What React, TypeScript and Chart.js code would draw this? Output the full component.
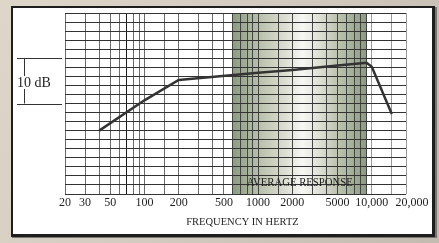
import React, { useEffect, useRef } from "react";
import { Chart, registerables } from "chart.js";

Chart.register(...registerables);

// Response curve: frequency (Hz) and relative level (dB)
const frequencies = [40, 100, 200, 1000, 2000, 5000, 9000, 10000, 15000];
const levels = [14, 20.7, 25.2, 26.8, 27.4, 28.4, 29.0, 28.1, 17.7];

// Vertical gridline positions (Hz)
const gridFrequencies = [
  20, 30, 40, 50, 60, 70, 80, 90, 100, 150, 200, 300, 400, 500, 600, 700, 800, 900,
  1000, 1500, 2000, 3000, 4000, 5000, 6000, 7000, 8000, 9000, 10000, 15000, 20000,
];
// Labelled frequencies
const labelFrequencies = [20, 30, 50, 100, 200, 500, 1000, 2000, 5000, 10000, 20000];
const labelTexts = ["20", "30", "50", "100", "200", "500", "1000", "2000", "5000", "10,000", "\u2002\u200220,000"];

// Average response band (Hz)
const bandRange = [600, 9000];
// Scale bracket (dB)
const bracketRange = [20, 30];

const SERIF = "'Liberation Serif', 'DejaVu Serif', serif";

const decorPlugin = {
  id: "decor",
  beforeDraw(chart: any) {
    const { ctx, width, height, chartArea, scales } = chart;
    ctx.save();
    // textured-ish page background
    const bg = ctx.createLinearGradient(0, 0, width, height);
    bg.addColorStop(0, "#ddd6c9");
    bg.addColorStop(0.5, "#d2cabe");
    bg.addColorStop(1, "#c3bbaf");
    ctx.fillStyle = bg;
    ctx.fillRect(0, 0, width, height);
    // shadow
    ctx.fillStyle = "#7a756e";
    ctx.fillRect(12, 236, 425, 2);
    ctx.fillRect(435, 7, 2, 231);
    // frame
    ctx.fillStyle = "#1e1e1e";
    ctx.fillRect(11, 6, 424, 231);
    ctx.fillStyle = "#ffffff";
    ctx.fillRect(13, 8, 419, 226);
    // band
    const x0 = scales.x.getPixelForValue(bandRange[0]);
    const x1 = scales.x.getPixelForValue(bandRange[1]);
    const g = ctx.createLinearGradient(x0, 0, x1, 0);
    g.addColorStop(0, "#8c9c80");
    g.addColorStop(0.1, "#a3af97");
    g.addColorStop(0.25, "#c3c9b7");
    g.addColorStop(0.4, "#dde0d4");
    g.addColorStop(0.52, "#f7f7f4");
    g.addColorStop(0.62, "#e4e6dc");
    g.addColorStop(0.76, "#c2c8b5");
    g.addColorStop(0.9, "#a2ae96");
    g.addColorStop(1, "#8a9a7f");
    ctx.fillStyle = g;
    ctx.fillRect(x0, chartArea.top, x1 - x0, chartArea.bottom - chartArea.top);
    ctx.restore();
  },
  afterDraw(chart: any) {
    const { ctx, scales } = chart;
    ctx.save();
    ctx.fillStyle = "#1e1e1e";
    // AVERAGE RESPONSE
    const x0 = scales.x.getPixelForValue(bandRange[0]);
    const x1 = scales.x.getPixelForValue(bandRange[1]);
    ctx.font = `12px ${SERIF}`;
    const txt = "AVERAGE RESPONSE";
    const w = ctx.measureText(txt).width;
    const sx = 106 / w;
    ctx.save();
    ctx.translate((x0 + x1) / 2, 186);
    ctx.scale(sx, 1);
    ctx.textAlign = "center";
    ctx.textBaseline = "alphabetic";
    ctx.fillText(txt, 0, 0);
    ctx.restore();
    // axis title
    ctx.font = `10.5px ${SERIF}`;
    ctx.textAlign = "center";
    ctx.textBaseline = "alphabetic";
    ctx.fillText("FREQUENCY IN HERTZ", 242.5, 225);
    // 10 dB bracket
    const yTop = scales.y.getPixelForValue(bracketRange[1]);
    const yBot = scales.y.getPixelForValue(bracketRange[0]);
    ctx.strokeStyle = "#333";
    ctx.lineWidth = 1;
    ctx.beginPath();
    ctx.moveTo(17, Math.round(yTop) + 0.5);
    ctx.lineTo(62, Math.round(yTop) + 0.5);
    ctx.moveTo(17, Math.round(yBot) + 0.5);
    ctx.lineTo(62, Math.round(yBot) + 0.5);
    ctx.moveTo(24.5, yTop);
    ctx.lineTo(24.5, 76);
    ctx.moveTo(24.5, 89);
    ctx.lineTo(24.5, yBot);
    ctx.stroke();
    ctx.font = `14px ${SERIF}`;
    ctx.textAlign = "left";
    ctx.fillStyle = "#1e1e1e";
    ctx.fillText("10 dB", 17, 87);
    ctx.restore();
  },
};

export default function App() {
  const ref = useRef<HTMLCanvasElement | null>(null);
  useEffect(() => {
    document.body.style.margin = "0";
    const canvas = ref.current;
    if (!canvas) return;
    const chart = new Chart(canvas, {
      type: "line",
      data: {
        datasets: [
          {
            data: frequencies.map((f, i) => ({ x: f, y: levels[i] })),
            borderColor: "#333333",
            borderWidth: 2.5,
            pointRadius: 0,
            tension: 0,
            fill: false,
          },
        ],
      },
      options: {
        animation: false,
        responsive: false,
        devicePixelRatio: 1,
        layout: { padding: { left: 65, right: 33, top: 13, bottom: 0 } },
        plugins: { legend: { display: false }, tooltip: { enabled: false } },
        scales: {
          x: {
            type: "logarithmic",
            min: 20,
            max: 20000,
            afterBuildTicks: (scale: any) => {
              scale.ticks = gridFrequencies.map((v) => ({ value: v }));
            },
            afterFit: (scale: any) => {
              scale.height = 49;
            },
            ticks: {
              autoSkip: false,
              maxRotation: 0,
              minRotation: 0,
              padding: 2,
              color: "#1e1e1e",
              font: { family: SERIF, size: 12 },
              callback: (v: any) => {
                const i = labelFrequencies.indexOf(Number(v));
                return i >= 0 ? labelTexts[i] : "";
              },
            },
            grid: {
              drawTicks: false,
              lineWidth: 1,
              color: (c: any) => {
                const v = c.tick ? c.tick.value : 0;
                if (v === 70) return "#1a1a1a";
                if (v >= bandRange[0] && v <= bandRange[1]) return "#444444";
                if (v > bandRange[1]) return "#9a9a9a";
                return "#6a6a6a";
              },
            },
            border: { display: false },
          },
          y: {
            type: "linear",
            min: 0,
            max: 40,
            afterFit: (scale: any) => {
              scale.width = 0;
            },
            ticks: { stepSize: 2, display: false },
            grid: { drawTicks: false, color: "#333333", lineWidth: 1 },
            border: { display: false },
          },
        },
      },
      plugins: [decorPlugin],
    });
    return () => chart.destroy();
  }, []);
  return (
    <canvas
      ref={ref}
      width={439}
      height={243}
      style={{ display: "block", width: 439, height: 243 }}
    />
  );
}
